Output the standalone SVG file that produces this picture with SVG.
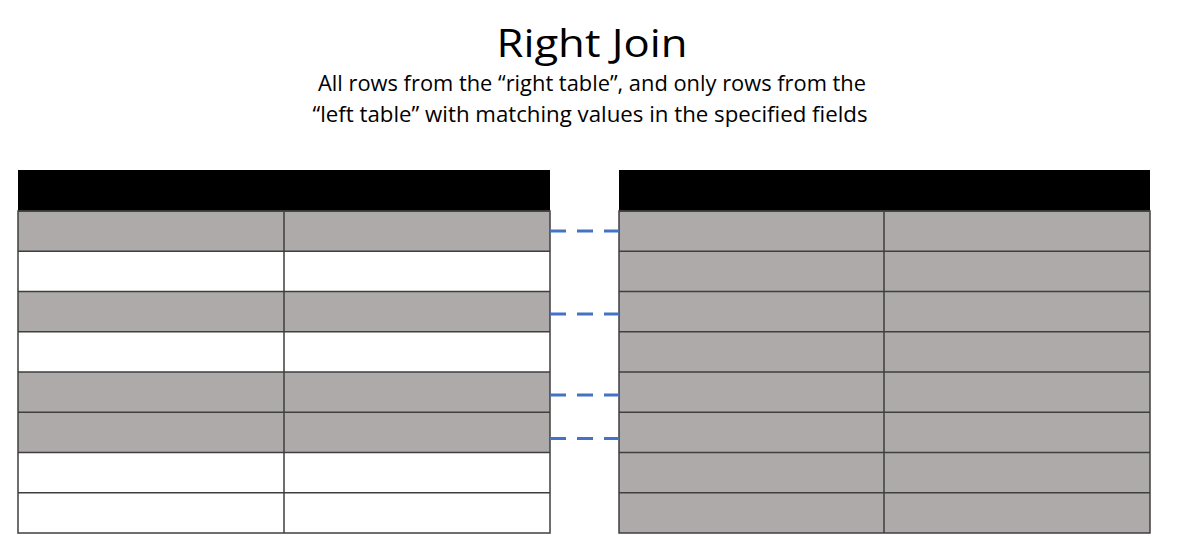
<svg xmlns="http://www.w3.org/2000/svg" width="1182" height="560" viewBox="0 0 1182 560">
  <style>
    .title { font-family: "Open Sans", "Liberation Sans", sans-serif; font-size: 38px; fill: #000; }
    .sub { font-family: "Open Sans", "Liberation Sans", sans-serif; font-size: 21px; fill: #000; }
    .hdr { fill: #000; }
    .gray { fill: #AEAAAA; }
    .white { fill: #FFFFFF; }
    .grid { fill: none; stroke: #3F3F3F; stroke-width: 1.5; }
    .link { stroke: #4472C4; stroke-width: 3; stroke-dasharray: 16 11; fill: none; }
  </style>
  <rect width="1182" height="560" fill="#FFFFFF"/>

  <g id="heading">
    <text class="title" x="592" y="57" text-anchor="middle" textLength="191" lengthAdjust="spacingAndGlyphs">Right Join</text>
    <text class="sub" x="592" y="91" text-anchor="middle" textLength="548" lengthAdjust="spacingAndGlyphs">All rows from the “right table”, and only rows from the</text>
    <text class="sub" x="590" y="122" text-anchor="middle" textLength="555" lengthAdjust="spacingAndGlyphs">“left table” with matching values in the specified fields</text>
  </g>

  <!-- left table: header + 8 rows, two columns -->
  <g id="left-table">
    <rect class="hdr" x="18" y="170" width="532" height="41"/>
    <rect class="gray" x="18" y="211" width="532" height="40.25"/>
    <rect class="white" x="18" y="251.25" width="532" height="40.25"/>
    <rect class="gray" x="18" y="291.5" width="532" height="40.25"/>
    <rect class="white" x="18" y="331.75" width="532" height="40.25"/>
    <rect class="gray" x="18" y="372" width="532" height="40.25"/>
    <rect class="gray" x="18" y="412.25" width="532" height="40.25"/>
    <rect class="white" x="18" y="452.5" width="532" height="40.25"/>
    <rect class="white" x="18" y="492.75" width="532" height="40.25"/>
    <path class="grid" d="M18 211H550M18 251.25H550M18 291.5H550M18 331.75H550M18 372H550M18 412.25H550M18 452.5H550M18 492.75H550M284 211V533"/>
    <rect class="grid" x="18" y="211" width="532" height="322"/>
  </g>

  <!-- right table: header + 8 rows, two columns -->
  <g id="right-table">
    <rect class="hdr" x="619" y="170" width="531" height="41"/>
    <rect class="gray" x="619" y="211" width="531" height="322"/>
    <path class="grid" d="M619 211H1150M619 251.25H1150M619 291.5H1150M619 331.75H1150M619 372H1150M619 412.25H1150M619 452.5H1150M619 492.75H1150M884 211V533"/>
    <rect class="grid" x="619" y="211" width="531" height="322"/>
  </g>

  <!-- matching-row links -->
  <g id="connectors">
    <line class="link" x1="550" y1="231" x2="619" y2="231"/>
    <line class="link" x1="550" y1="314" x2="619" y2="314"/>
    <line class="link" x1="550" y1="395" x2="619" y2="395"/>
    <line class="link" x1="550" y1="438.5" x2="619" y2="438.5"/>
  </g>
</svg>
